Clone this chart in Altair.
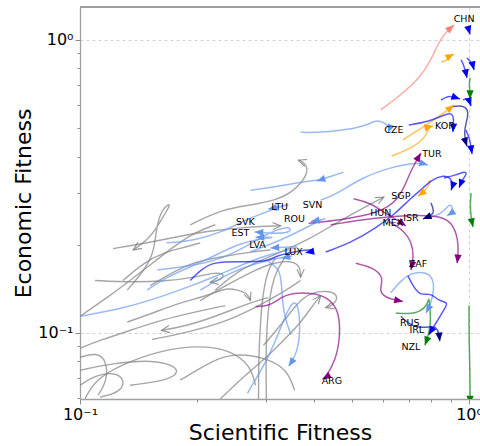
import math
import altair as alt
import pandas as pd

# Axis extents (log scales) and plot size
X_DOMAIN = [0.1, 1.067]
Y_DOMAIN = [0.0595, 1.296]
W, H = 400, 392

PALETTE = {
    "grey": "#808080",
    "lightblue": "#6495ED",
    "blue": "#0000FF",
    "navy": "#000080",
    "purple": "#800080",
    "orange": "#FFA500",
    "salmon": "#FA8072",
    "green": "#008000",
}

# ---- trajectories: (scientific fitness, economic fitness) over time ----
chn_x = [0.593, 0.668, 0.752, 0.798, 0.837, 0.872, 0.915]
chn_y = [0.577, 0.649, 0.748, 0.855, 0.985, 1.065, 1.125]

or1_x = [0.847, 0.878, 0.894, 0.915]
or1_y = [0.842, 0.849, 0.882, 0.896]

btop_x = [0.994, 1.0, 1.006]
btop_y = [1.10, 1.075, 1.045]

b2_x = [0.954, 0.971, 0.982, 0.988]
b2_y = [0.855, 0.815, 0.772, 0.742]

b3_x = [0.988, 1.012, 1.024, 1.030]
b3_y = [0.868, 0.842, 0.815, 0.790]

gr1_x = [1.006, 1.0, 1.006, 1.006]
gr1_y = [0.742, 0.702, 0.665, 0.629]

b4_x = [0.847, 0.884, 0.915, 0.948]
b4_y = [0.624, 0.644, 0.639, 0.629]

b5_x = [0.965, 0.994, 1.012]
b5_y = [0.624, 0.637, 0.595]

korb_x = [0.700, 0.784, 0.862, 0.899, 0.915, 0.909]
korb_y = [0.513, 0.525, 0.555, 0.564, 0.546, 0.485]

nv1_x = [0.899, 0.971, 1.0, 0.982, 0.971, 0.982, 0.988]
nv1_y = [0.591, 0.600, 0.568, 0.520, 0.482, 0.445, 0.434]

b7_x = [0.982, 1.006, 1.012, 1.018]
b7_y = [0.493, 0.456, 0.428, 0.408]

or2_x = [0.676, 0.765, 0.862, 0.915]
or2_y = [0.456, 0.505, 0.564, 0.600]

kor_x = [0.633, 0.721, 0.775, 0.788, 0.808]
kor_y = [0.402, 0.431, 0.467, 0.505, 0.509]

cze_x = [0.369, 0.401, 0.488, 0.549, 0.576, 0.604, 0.626, 0.619]
cze_y = [0.485, 0.482, 0.493, 0.513, 0.533, 0.525, 0.500, 0.482]

tur_x = [0.387, 0.468, 0.583, 0.660, 0.696, 0.721, 0.752]
tur_y = [0.237, 0.243, 0.256, 0.284, 0.338, 0.374, 0.411]

lb1_x = [0.4155, 0.454, 0.527, 0.629, 0.739, 0.784]
lb1_y = [0.284, 0.296, 0.338, 0.368, 0.383, 0.374]

lb2_x = [0.476, 0.441, 0.406]
lb2_y = [0.354, 0.342, 0.330]

lb3_x = [0.411, 0.376, 0.314, 0.2743]
lb3_y = [0.333, 0.328, 0.315, 0.307]

g1_x = [0.192, 0.2336, 0.2743, 0.318, 0.348, 0.3734, 0.387, 0.376, 0.364]
g1_y = [0.234, 0.265, 0.273, 0.284, 0.300, 0.328, 0.360, 0.383, 0.389]

sgp_x = [0.784, 0.798, 0.788, 0.761, 0.739]
sgp_y = [0.328, 0.333, 0.317, 0.302, 0.293]

g2_x = [0.2228, 0.2585, 0.314, 0.385, 0.468, 0.604]
g2_y = [0.140, 0.166, 0.184, 0.207, 0.243, 0.291]

b1_x = [0.428, 0.4965, 0.576, 0.648, 0.709, 0.752, 0.798, 0.862, 0.899, 0.909, 0.899]
b1_y = [0.189, 0.203, 0.228, 0.256, 0.289, 0.307, 0.333, 0.346, 0.338, 0.320, 0.307]

bloop_x = [0.862, 0.926, 0.977, 0.988, 0.960, 0.943]
bloop_y = [0.338, 0.346, 0.357, 0.349, 0.333, 0.313]

mex_x = [0.505, 0.559, 0.611, 0.660, 0.688]
mex_y = [0.287, 0.278, 0.255, 0.241, 0.232]

zaf_x = [0.622, 0.680, 0.713, 0.721, 0.709]
zaf_y = [0.240, 0.224, 0.203, 0.182, 0.164]

p4_x = [0.441, 0.569, 0.721, 0.847, 0.915, 0.943, 0.932]
p4_y = [0.234, 0.247, 0.253, 0.251, 0.235, 0.199, 0.173]

p5_x = [0.5114, 0.569, 0.605, 0.587, 0.605, 0.676]
p5_y = [0.173, 0.167, 0.154, 0.140, 0.132, 0.128]

arg_x = [0.2826, 0.3088, 0.3277, 0.3478, 0.401, 0.433, 0.463, 0.467, 0.454, 0.428, 0.420]
arg_y = [0.123, 0.124, 0.132, 0.137, 0.137, 0.132, 0.120, 0.0969, 0.0807, 0.0705, 0.0695]

irl_x = [0.696, 0.721, 0.752, 0.798, 0.832, 0.883, 0.872, 0.832, 0.788]
irl_y = [0.157, 0.143, 0.134, 0.137, 0.129, 0.127, 0.123, 0.111, 0.0985]

rus_x = [0.668, 0.696, 0.739, 0.798, 0.822, 0.837, 0.841]
rus_y = [0.114, 0.108, 0.104, 0.105, 0.105, 0.100, 0.0937]

nzl_x = [0.648, 0.696, 0.752, 0.784, 0.788, 0.793, 0.798, 0.784, 0.770]
nzl_y = [0.117, 0.116, 0.118, 0.126, 0.133, 0.123, 0.108, 0.0969, 0.0908]

lbzaf_x = [0.629, 0.668, 0.709, 0.765, 0.808, 0.813, 0.798, 0.775]
lbzaf_y = [0.137, 0.151, 0.160, 0.162, 0.155, 0.140, 0.126, 0.117]

grv_x = [1.0, 1.0, 1.006, 1.006]
grv_y = [0.124, 0.0944, 0.0729, 0.057]

gr2_x = [1.012, 1.006, 1.012, 1.024]
gr2_y = [0.300, 0.273, 0.247, 0.230]

isr_x = [0.798, 0.808, 0.813, 0.784, 0.761]
isr_y = [0.278, 0.267, 0.256, 0.249, 0.245]

lbisr_x = [0.775, 0.847, 0.894, 0.909, 0.899, 0.878]
lbisr_y = [0.247, 0.253, 0.278, 0.267, 0.256, 0.251]

lux_x = [0.192, 0.204, 0.220, 0.2585, 0.303, 0.318, 0.348, 0.380, 0.401, 0.389, 0.380]
lux_y = [0.151, 0.164, 0.175, 0.175, 0.175, 0.183, 0.188, 0.192, 0.193, 0.189, 0.188]

ltu_x = [0.1667, 0.198, 0.232, 0.266, 0.295, 0.328, 0.348, 0.334, 0.305]
ltu_y = [0.203, 0.207, 0.221, 0.243, 0.256, 0.271, 0.275, 0.271, 0.265]

svk_x = [0.158, 0.184, 0.220, 0.2585, 0.295, 0.328, 0.348, 0.348, 0.324, 0.281]
svk_y = [0.164, 0.168, 0.175, 0.192, 0.214, 0.228, 0.230, 0.221, 0.218, 0.221]

est_x = [0.1488, 0.1667, 0.192, 0.2228, 0.2585, 0.295, 0.318, 0.300, 0.2826]
est_y = [0.140, 0.155, 0.168, 0.184, 0.203, 0.210, 0.212, 0.212, 0.212]

lva_x = [0.1, 0.1245, 0.1515, 0.1887, 0.220, 0.2585, 0.300, 0.348, 0.369, 0.348, 0.3088]
lva_y = [0.114, 0.120, 0.129, 0.143, 0.155, 0.170, 0.184, 0.193, 0.197, 0.197, 0.195]

rou_x = [0.274, 0.328, 0.380, 0.4155, 0.433, 0.4155, 0.392]
rou_y = [0.189, 0.207, 0.228, 0.243, 0.247, 0.243, 0.240]

lbl2_x = [0.2038, 0.2407, 0.2826, 0.3376, 0.3582, 0.3297]
lbl2_y = [0.140, 0.160, 0.173, 0.182, 0.184, 0.180]

lbd1_x = [0.2694, 0.279, 0.303, 0.328, 0.342, 0.356, 0.364, 0.369, 0.362, 0.344]
lbd1_y = [0.0622, 0.0676, 0.0807, 0.104, 0.120, 0.129, 0.123, 0.104, 0.0853, 0.0770]

lbd2_x = [0.305, 0.326, 0.330, 0.332, 0.338, 0.348]
lbd2_y = [0.175, 0.166, 0.145, 0.124, 0.111, 0.0985]

gloop_x = [0.1323, 0.1442, 0.1533, 0.1561, 0.158, 0.1624, 0.169, 0.1706, 0.1634, 0.158, 0.1488, 0.137]
gloop_y = [0.140, 0.160, 0.182, 0.207, 0.237, 0.263, 0.276, 0.273, 0.249, 0.230, 0.207, 0.192]

gh1_x = [0.1216, 0.1488, 0.181, 0.220, 0.2694, 0.328]
gh1_y = [0.194, 0.203, 0.214, 0.224, 0.230, 0.232]

ga_x = [0.1093, 0.1345, 0.1656, 0.198, 0.2228, 0.2364, 0.2295, 0.2163]
ga_y = [0.151, 0.149, 0.150, 0.155, 0.161, 0.159, 0.151, 0.149]

gc_x = [0.1323, 0.1543, 0.181, 0.2125, 0.239, 0.2539, 0.2694, 0.2743]
gc_y = [0.109, 0.117, 0.127, 0.134, 0.143, 0.140, 0.137, 0.129]

gd_x = [0.305, 0.2743, 0.220, 0.184, 0.162]
gd_y = [0.132, 0.127, 0.113, 0.105, 0.102]

ge_x = [0.1533, 0.1921, 0.2364, 0.2826, 0.334, 0.369]
ge_y = [0.095, 0.101, 0.109, 0.122, 0.138, 0.151]

gf_x = [0.2963, 0.3277, 0.3582, 0.385, 0.441, 0.463, 0.446, 0.428]
gf_y = [0.0908, 0.106, 0.124, 0.137, 0.140, 0.133, 0.124, 0.122]

gg_x = [0.2038, 0.2364, 0.2743, 0.3088, 0.348, 0.369, 0.369]
gg_y = [0.129, 0.145, 0.161, 0.173, 0.177, 0.169, 0.155]

gv1_x = [0.2877, 0.2877, 0.291, 0.296, 0.305, 0.318]
gv1_y = [0.057, 0.0807, 0.111, 0.140, 0.166, 0.180]

gv2_x = [0.3016, 0.300, 0.305, 0.318, 0.348]
gv2_y = [0.057, 0.0873, 0.129, 0.164, 0.192]

garc_x = [0.181, 0.220, 0.248, 0.303, 0.342, 0.356]
garc_y = [0.069, 0.0807, 0.0853, 0.0823, 0.0746, 0.0637]

gdiag_x = [0.2295, 0.2694, 0.296, 0.328, 0.369, 0.396, 0.4155]
gdiag_y = [0.0596, 0.0729, 0.0807, 0.0922, 0.108, 0.124, 0.134]

gbl1_x = [0.1, 0.1102, 0.117, 0.1176, 0.1113]
gbl1_y = [0.0826, 0.0858, 0.0807, 0.069, 0.0613]

gbl2_x = [0.1, 0.122, 0.1488, 0.1678, 0.181, 0.1706, 0.1345]
gbl2_y = [0.0746, 0.0788, 0.0807, 0.0788, 0.0746, 0.069, 0.0663]

gbl3_x = [0.1, 0.1126, 0.1345, 0.163, 0.198, 0.2364]
gbl3_y = [0.0887, 0.0944, 0.102, 0.111, 0.118, 0.124]

gbl4_x = [0.103, 0.1093, 0.1268, 0.1608, 0.2038, 0.2436, 0.2743, 0.2826]
gbl4_y = [0.0596, 0.069, 0.0776, 0.0873, 0.0908, 0.0873, 0.0776, 0.0663]

gbl5_x = [0.1, 0.1093, 0.1231, 0.1306, 0.1268, 0.1126]
gbl5_y = [0.0663, 0.0717, 0.0735, 0.069, 0.0627, 0.0604]

gup2_x = [0.1, 0.1195, 0.137, 0.1552, 0.1757, 0.1979, 0.2228]
gup2_y = [0.114, 0.134, 0.154, 0.175, 0.199, 0.221, 0.234]

gup3_x = [0.129, 0.1452, 0.1634, 0.1887, 0.2038]
gup3_y = [0.151, 0.173, 0.188, 0.197, 0.203]

gm_x = [0.1515, 0.192, 0.2336, 0.2743, 0.3088]
gm_y = [0.145, 0.175, 0.182, 0.189, 0.192]

# (id, colour group, x series, y series, draw arrow head)
tracks = [
    ("gloop", "grey", gloop_x, gloop_y, True),
    ("gh1", "grey", gh1_x, gh1_y, True),
    ("ga", "grey", ga_x, ga_y, True),
    ("gc", "grey", gc_x, gc_y, True),
    ("gd", "grey", gd_x, gd_y, True),
    ("ge", "grey", ge_x, ge_y, False),
    ("gf", "grey", gf_x, gf_y, True),
    ("gg", "grey", gg_x, gg_y, True),
    ("gv1", "grey", gv1_x, gv1_y, False),
    ("gv2", "grey", gv2_x, gv2_y, False),
    ("garc", "grey", garc_x, garc_y, False),
    ("gdiag", "grey", gdiag_x, gdiag_y, True),
    ("gbl1", "grey", gbl1_x, gbl1_y, False),
    ("gbl2", "grey", gbl2_x, gbl2_y, False),
    ("gbl3", "grey", gbl3_x, gbl3_y, False),
    ("gbl4", "grey", gbl4_x, gbl4_y, False),
    ("gbl5", "grey", gbl5_x, gbl5_y, False),
    ("gup2", "grey", gup2_x, gup2_y, False),
    ("gup3", "grey", gup3_x, gup3_y, False),
    ("gm", "grey", gm_x, gm_y, False),
    ("g1", "grey", g1_x, g1_y, True),
    ("g2", "grey", g2_x, g2_y, True),
    ("CZE", "lightblue", cze_x, cze_y, True),
    ("lb1", "lightblue", lb1_x, lb1_y, True),
    ("lb2", "lightblue", lb2_x, lb2_y, True),
    ("lb3", "lightblue", lb3_x, lb3_y, False),
    ("lbzaf", "lightblue", lbzaf_x, lbzaf_y, True),
    ("lbisr", "lightblue", lbisr_x, lbisr_y, True),
    ("LTU", "lightblue", ltu_x, ltu_y, True),
    ("SVK", "lightblue", svk_x, svk_y, True),
    ("EST", "lightblue", est_x, est_y, True),
    ("LVA", "lightblue", lva_x, lva_y, True),
    ("ROU", "lightblue", rou_x, rou_y, True),
    ("lbl2", "lightblue", lbl2_x, lbl2_y, True),
    ("lbd1", "lightblue", lbd1_x, lbd1_y, True),
    ("lbd2", "lightblue", lbd2_x, lbd2_y, False),
    ("CHN", "salmon", chn_x, chn_y, True),
    ("or1", "orange", or1_x, or1_y, True),
    ("or2", "orange", or2_x, or2_y, True),
    ("KOR", "orange", kor_x, kor_y, True),
    ("SGP", "orange", sgp_x, sgp_y, True),
    ("btop", "blue", btop_x, btop_y, True),
    ("b2", "blue", b2_x, b2_y, True),
    ("b3", "blue", b3_x, b3_y, True),
    ("b4", "blue", b4_x, b4_y, True),
    ("b5", "blue", b5_x, b5_y, True),
    ("korb", "blue", korb_x, korb_y, True),
    ("b7", "blue", b7_x, b7_y, True),
    ("b1", "blue", b1_x, b1_y, True),
    ("bloop", "blue", bloop_x, bloop_y, True),
    ("IRL", "blue", irl_x, irl_y, True),
    ("LUX", "blue", lux_x, lux_y, True),
    ("nv1", "navy", nv1_x, nv1_y, True),
    ("RUS", "navy", rus_x, rus_y, True),
    ("ISR", "navy", isr_x, isr_y, True),
    ("TUR", "purple", tur_x, tur_y, True),
    ("MEX", "purple", mex_x, mex_y, True),
    ("ZAF", "purple", zaf_x, zaf_y, True),
    ("p4", "purple", p4_x, p4_y, True),
    ("p5", "purple", p5_x, p5_y, True),
    ("ARG", "purple", arg_x, arg_y, True),
    ("gr1", "green", gr1_x, gr1_y, True),
    ("gr2", "green", gr2_x, gr2_y, True),
    ("grv", "green", grv_x, grv_y, True),
    ("NZL", "green", nzl_x, nzl_y, True),
]

# Country codes printed next to their trajectories
label_text = ["CHN", "KOR", "CZE", "TUR", "SGP", "HUN", "ISR", "MEX", "SVN", "LTU",
              "ROU", "SVK", "EST", "LVA", "LUX", "ZAF", "RUS", "IRL", "NZL", "ARG"]
label_x = [0.971, 0.867, 0.641, 0.803, 0.668, 0.593, 0.709, 0.637, 0.396, 0.326,
           0.356, 0.266, 0.2585, 0.286, 0.354, 0.739, 0.704, 0.734, 0.709, 0.444]
label_y = [1.18, 0.509, 0.493, 0.408, 0.293, 0.256, 0.247, 0.237, 0.273, 0.270,
           0.245, 0.239, 0.220, 0.199, 0.189, 0.172, 0.108, 0.102, 0.0894, 0.0685]

# pixels per decade, used to orient the arrow heads on screen
KX = W / math.log10(X_DOMAIN[1] / X_DOMAIN[0])
KY = H / math.log10(Y_DOMAIN[1] / Y_DOMAIN[0])

line_rows, head_rows = [], []
for name, group, xs, ys, head in tracks:
    for i, (x, y) in enumerate(zip(xs, ys)):
        line_rows.append({"id": name, "group": group, "step": i, "x": x, "y": y})
    if head:
        dx = math.log10(xs[-1] / xs[-2]) * KX
        dy = math.log10(ys[-1] / ys[-2]) * KY
        ang = math.degrees(math.atan2(dx, dy)) % 360
        head_rows.append({"id": name, "group": group, "x": xs[-1], "y": ys[-1], "angle": ang})

lines = pd.DataFrame(line_rows)
heads = pd.DataFrame(head_rows)
labels = pd.DataFrame({"code": label_text, "x": label_x, "y": label_y})

MAJOR = "datum.value == 1 || datum.value == 0.1"
x_ticks = [0.1, 0.2, 0.3, 0.4, 0.5, 0.6, 0.7, 0.8, 0.9, 1.0]
y_ticks = [0.06, 0.07, 0.08, 0.09, 0.1, 0.2, 0.3, 0.4, 0.5, 0.6, 0.7, 0.8, 0.9, 1.0]
LABEL_EXPR = "datum.value == 1 ? '10\u2070' : (datum.value == 0.1 ? '10\u207b\u00b9' : '')"

common_axis = dict(
    labelExpr=LABEL_EXPR,
    labelFont="DejaVu Sans",
    labelFontSize=16,
    labelColor="black",
    labelOverlap=False,
    labelFlush=False,
    titleFont="DejaVu Sans",
    titleFontSize=22,
    titleFontWeight="normal",
    titleColor="black",
    grid=True,
    gridColor="#c8c8c8",
    gridDash=[3, 3],
    gridWidth=0.8,
    gridOpacity={"condition": {"test": MAJOR, "value": 1}, "value": 0},
    tickColor="#8a8a8a",
    tickSize={"condition": {"test": MAJOR, "value": 5}, "value": 3},
    tickWidth=1,
    domainColor="#a0a0a0",
    domainWidth=1.3,
)

x_enc = alt.X(
    "x:Q",
    scale=alt.Scale(type="log", domain=X_DOMAIN, nice=False),
    axis=alt.Axis(values=x_ticks, title="Scientific Fitness", labelPadding=2,
                  titlePadding=0, **common_axis),
)
y_enc = alt.Y(
    "y:Q",
    scale=alt.Scale(type="log", domain=Y_DOMAIN, nice=False),
    axis=alt.Axis(values=y_ticks, title="Economic Fitness", labelPadding=2,
                  titlePadding=2, **common_axis),
)
color_enc = alt.Color(
    "group:N",
    scale=alt.Scale(domain=list(PALETTE.keys()), range=list(PALETTE.values())),
    legend=None,
)

grey_lines = alt.Chart(lines[lines.group == "grey"]).mark_line(
    interpolate="basis", strokeWidth=1.4, opacity=0.7, clip=True
).encode(x=x_enc, y=y_enc, color=color_enc, detail="id:N", order="step:Q")

color_lines = alt.Chart(lines[lines.group != "grey"]).mark_line(
    interpolate="basis", strokeWidth=1.5, opacity=0.65, clip=True
).encode(x=x_enc, y=y_enc, color=color_enc, detail="id:N", order="step:Q")

# arrow heads: tip sits on the last point, rotated along the final segment
grey_heads = alt.Chart(heads[heads.group == "grey"]).mark_point(
    shape="M-0.45,1L0,0L0.45,1", filled=False, size=260, strokeWidth=1.1,
    opacity=0.85, clip=True,
).encode(x=x_enc, y=y_enc, color=color_enc, angle=alt.Angle("angle:Q", scale=None))

color_heads = alt.Chart(heads[heads.group != "grey"]).mark_point(
    shape="M0,0L0.42,1L-0.42,1Z", filled=True, size=300, opacity=1,
    strokeWidth=0, clip=True,
).encode(x=x_enc, y=y_enc, color=color_enc, angle=alt.Angle("angle:Q", scale=None))

text = alt.Chart(labels).mark_text(
    font="DejaVu Sans", fontSize=9.5, color="black", align="center", baseline="middle"
).encode(x=x_enc, y=y_enc, text="code:N")

top_border = alt.Chart(labels).mark_rule(color="#a0a0a0", strokeWidth=1.3).encode(
    x=alt.value(0), x2=alt.value(W), y=alt.value(0)
)

chart = alt.layer(
    grey_lines, color_lines, grey_heads, color_heads, text, top_border
).properties(
    width=W,
    height=H,
    autosize=alt.AutoSizeParams(type="none"),
    padding={"left": 80, "top": 7, "right": 0, "bottom": 47},
    background="white",
).configure_view(stroke=None)

chart.save("out.html", embed_options={"renderer": "svg", "actions": False})
